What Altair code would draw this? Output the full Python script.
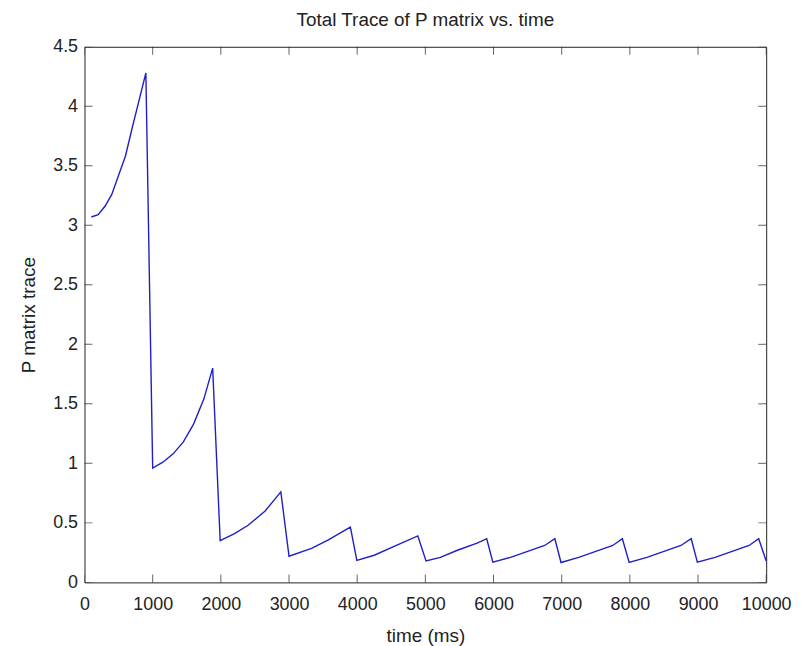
import altair as alt
import pandas as pd

# time (ms)
time_ms = [100, 200, 300, 400, 500, 600, 700, 800, 900,
           1000, 1150, 1300, 1450, 1600, 1750, 1880,
           1990, 2200, 2400, 2650, 2880,
           3000, 3330, 3570, 3900,
           3995, 4250, 4550, 4890,
           5010, 5220, 5470, 5760, 5900,
           5990, 6250, 6500, 6750, 6900,
           6990, 7250, 7500, 7750, 7890,
           7990, 8250, 8500, 8750, 8900,
           8990, 9250, 9500, 9750, 9890,
           10000]
# P matrix trace
trace = [3.07, 3.09, 3.16, 3.26, 3.42, 3.58, 3.82, 4.05, 4.28,
         0.96, 1.01, 1.08, 1.18, 1.33, 1.54, 1.80,
         0.35, 0.41, 0.48, 0.60, 0.76,
         0.22, 0.285, 0.355, 0.465,
         0.185, 0.228, 0.305, 0.39,
         0.18, 0.21, 0.27, 0.33, 0.367,
         0.17, 0.21, 0.26, 0.31, 0.367,
         0.167, 0.21, 0.26, 0.31, 0.367,
         0.167, 0.21, 0.26, 0.31, 0.367,
         0.17, 0.21, 0.26, 0.31, 0.367,
         0.18]

x_ticks = [0, 1000, 2000, 3000, 4000, 5000, 6000, 7000, 8000, 9000, 10000]
y_ticks = [0, 0.5, 1, 1.5, 2, 2.5, 3, 3.5, 4, 4.5]
x_min, x_max = 0, 10000
y_min, y_max = 0, 4.5

df = pd.DataFrame({"t": time_ms, "v": trace})
xt = pd.DataFrame({"t": x_ticks})
yt = pd.DataFrame({"v": y_ticks})

W, H = 686, 539
FONT = "Liberation Sans"
INK = "#222222"

xscale = alt.Scale(domain=[x_min, x_max], nice=False, zero=False)
yscale = alt.Scale(domain=[y_min, y_max], nice=False, zero=False)

main = alt.Chart(df).mark_line(color="#1f1fc8", strokeWidth=1.4).encode(
    x=alt.X("t:Q", scale=xscale, axis=alt.Axis(
        orient="bottom", values=x_ticks, format="d", ticks=False, domain=False,
        grid=False, labelPadding=13, labelOverlap=False, labelFlush=False,
        title="time (ms)", titlePadding=13,
        labelFont=FONT, labelFontSize=18, labelColor=INK,
        titleFont=FONT, titleFontSize=19, titleFontWeight="normal", titleColor=INK)),
    y=alt.Y("v:Q", scale=yscale, axis=alt.Axis(
        orient="left", values=y_ticks, format="~g", ticks=False, domain=False,
        grid=False, labelPadding=7, labelOverlap=False, labelFlush=False,
        title="P matrix trace", titlePadding=14,
        labelFont=FONT, labelFontSize=18, labelColor=INK,
        titleFont=FONT, titleFontSize=19, titleFontWeight="normal", titleColor=INK)),
)

# inward tick marks on all four sides (centered ticks clipped to the plot area)
TS = 16
xtick_bottom = alt.Chart(xt).mark_tick(orient="vertical", size=TS, thickness=1,
                                       color=INK, clip=True).encode(
    x=alt.X("t:Q", scale=xscale), y=alt.datum(y_min))
xtick_top = alt.Chart(xt).mark_tick(orient="vertical", size=TS, thickness=1,
                                    color=INK, clip=True).encode(
    x=alt.X("t:Q", scale=xscale), y=alt.datum(y_max))
ytick_left = alt.Chart(yt).mark_tick(orient="horizontal", size=TS, thickness=1,
                                     color=INK, clip=True).encode(
    y=alt.Y("v:Q", scale=yscale), x=alt.datum(x_min))
ytick_right = alt.Chart(yt).mark_tick(orient="horizontal", size=TS, thickness=1,
                                      color=INK, clip=True).encode(
    y=alt.Y("v:Q", scale=yscale), x=alt.datum(x_max))

chart = alt.layer(main, xtick_bottom, xtick_top, ytick_left, ytick_right).properties(
    width=W, height=H,
    background="white",
    title=alt.TitleParams("Total Trace of P matrix vs. time", font=FONT, fontSize=19,
                          fontWeight="normal", color=INK, offset=8),
    autosize=alt.AutoSizeParams(type="none"),
    padding={"left": 77, "top": 37, "right": 30, "bottom": 64},
).configure_view(
    stroke=INK, strokeWidth=1
)

chart.save("out.html", embed_options={"renderer": "svg", "actions": False})
